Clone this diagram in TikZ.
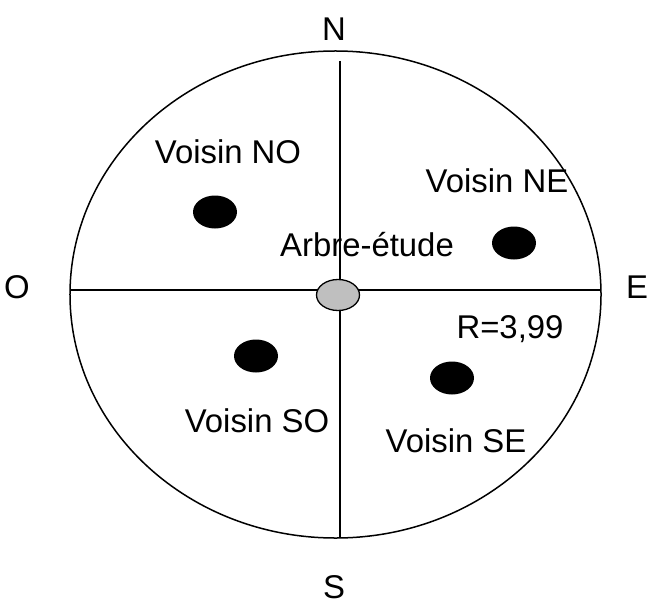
\documentclass[tikz,border=0pt]{standalone}
\usepackage{fontspec}
\setmainfont{Liberation Sans}
\usetikzlibrary{shapes.geometric}
\begin{document}
\begin{tikzpicture}[x=1bp,y=-1bp,
  lbl/.style={font=\fontsize{33}{34}\selectfont, inner sep=0pt},
  dot/.style={ellipse, fill=black, minimum width=44bp, minimum height=33bp, inner sep=0pt},
  outer/.style={ellipse, draw, line width=1.5bp, minimum width=531bp, minimum height=487bp, inner sep=0pt},
  axis/.style={line width=1.5bp}]
\useasboundingbox (0,0) rectangle (655,604);
\node[outer] (circ) at (335.5,294.5) {};
\coordinate (ntop) at (340,61);
\coordinate (sbot) at (340,538);
\coordinate (wl) at (70,290);
\coordinate (er) at (601,290);
\draw[axis] (ntop) -- (sbot);
\draw[axis] (wl) -- (er);
\node[ellipse, draw, line width=1.3bp, fill=gray!50, minimum width=43bp, minimum height=31bp, inner sep=0pt] (tree) at (338,295) {};
\node[dot] (dno) at (215,212) {};
\node[dot] (dne) at (514,243) {};
\node[dot] (dso) at (256,356) {};
\node[dot] (dse) at (452,378) {};
\node[lbl] (lno) at (228,152) {Voisin NO};
\node[lbl] (lne) at (497,181) {Voisin NE};
\node[lbl] (lso) at (257,421) {Voisin SO};
\node[lbl] (lse) at (456,441) {Voisin SE};
\node[lbl] (lr) at (510,329) {R=3,99};
\node[lbl] (ltree) at (367,245) {Arbre-étude};
\node[lbl] (n) at (334,29) {N};
\node[lbl] (s) at (334,587) {S};
\node[lbl] (e) at (637,287) {E};
\node[lbl] (o) at (17,287) {O};
\end{tikzpicture}
\end{document}
